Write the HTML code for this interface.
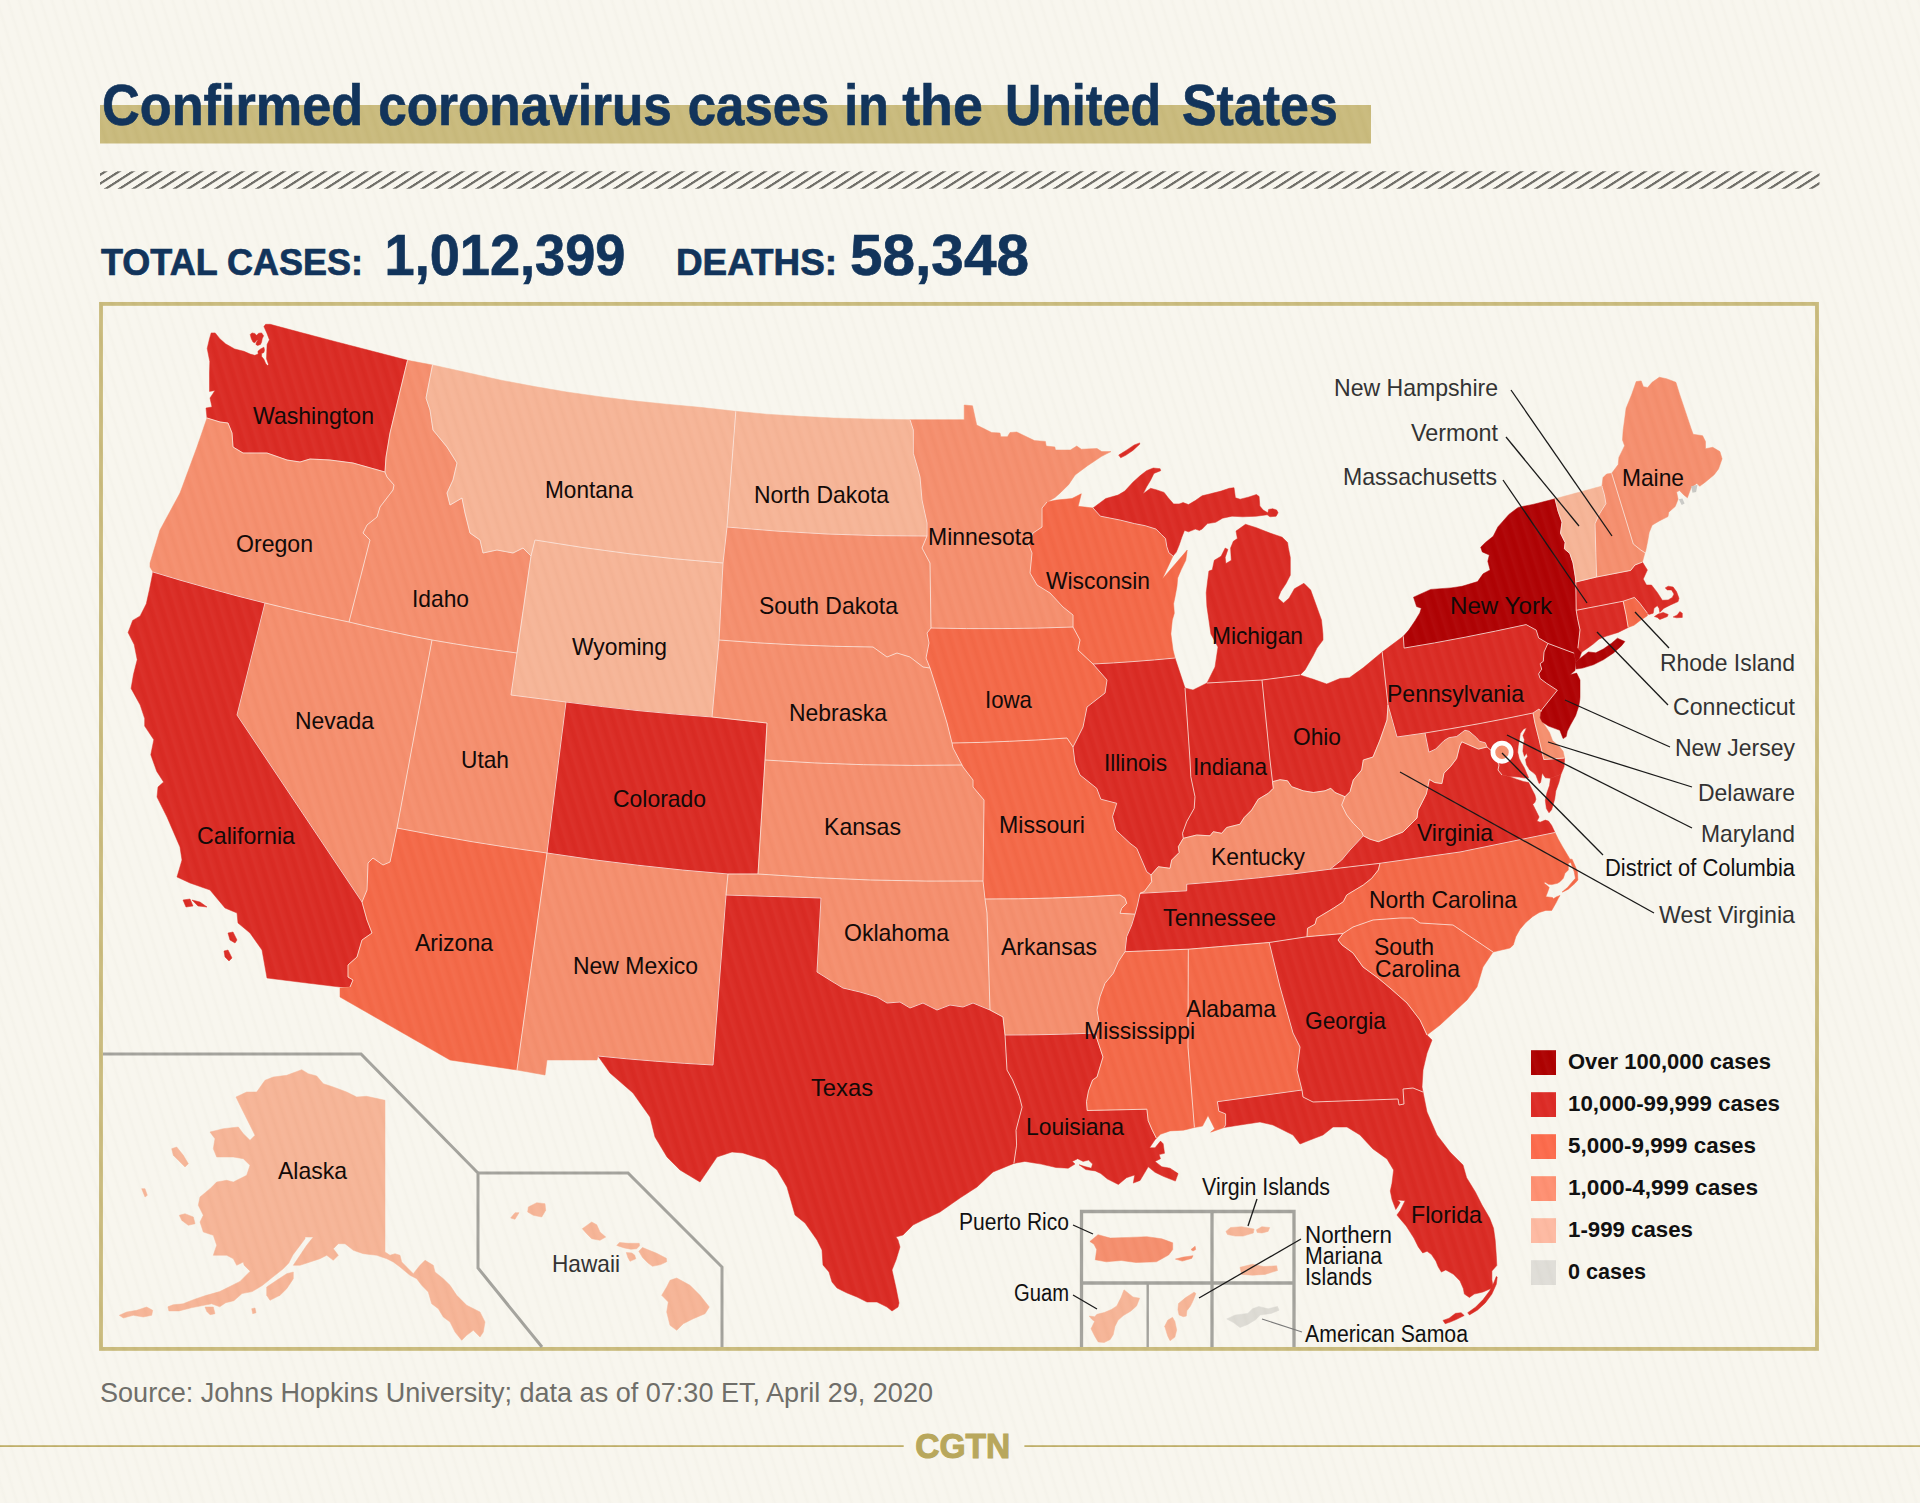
<!DOCTYPE html>
<html lang="en"><head><meta charset="utf-8"><title>Confirmed coronavirus cases in the United States</title>
<style>html,body{margin:0;padding:0}body{width:1920px;height:1503px;overflow:hidden;background:#f6f4ec;font-family:"Liberation Sans",sans-serif}svg{display:block;position:absolute;left:0;top:0}.tx{position:absolute;left:0;top:0;width:1920px;height:1503px;background:repeating-linear-gradient(73deg,rgba(255,255,255,.035) 0,rgba(255,255,255,.02) 3px,rgba(70,60,30,.016) 6px,rgba(255,255,255,.008) 8.5px,rgba(255,255,255,.035) 10.5px)}text{font-family:"Liberation Sans",sans-serif}.st{stroke:#fbe8e0;stroke-width:.9;stroke-linejoin:round;stroke-opacity:.9}.lb{font-size:24px;fill:#120a08}.lg{font-size:24px;fill:#333}.ld{stroke:#161616;stroke-width:1.3;fill:none}.din{font-size:23px;fill:#111}.leg{font-size:22.5px;font-weight:bold;fill:#111}.nv{fill:#12345b;font-weight:bold;stroke:#12345b;stroke-width:.7px}</style></head><body>
<svg width="1920" height="1503" viewBox="0 0 1920 1503">
<defs><pattern id="hatch" width="13.75" height="20" patternUnits="userSpaceOnUse" patternTransform="translate(0.1,0) skewX(-57.4)"><rect x="0" y="0" width="4.2" height="20" fill="#6f6e68"/></pattern></defs>
<rect width="1920" height="1503" fill="#f8f6ee"/>
<rect x="100" y="105" width="1271" height="38.5" fill="#c9ba7c"/>
<rect x="100" y="171.3" width="1719.5" height="17.4" fill="url(#hatch)"/>
<rect x="101" y="303.9" width="1716" height="1045" fill="none" stroke="#c9ba7c" stroke-width="3.85"/>
<polygon fill="#da2a23" stroke="#da2a23" stroke-width=".5" stroke-linejoin="round" points="207,418 206,408 212,407 210,398 215,390.5 209.5,391.4 209.5,373 209.8,361.6 207.2,348.4 209.5,338.7 211.2,332.9 215.2,332.9 219.8,338.7 225.5,343.8 234.7,349 243.9,351.3 250.2,354.1 254.8,355.3 258.2,354.1 257.9,351.3 260.5,349 263.9,347.2 264.5,350.1 263.9,352.4 261.6,353.6 261.6,356.4 263.9,359.3 265.6,363.3 267.4,365.6 268.5,364.4 266.5,358.7 266.8,351.3 267.1,344.4 269.4,339.8 266.8,332.9 263.9,326.6 265.6,324.3 270.2,324.3 300,332.3 333,341 407.5,360.3 390,433 386,457 385,472 353,463 330,460 310,459 300,462 287,460 267,453 243,453 233,447 232,433 228,423 220,422"/>
<polygon fill="#da2a23" stroke="#da2a23" stroke-width=".5" stroke-linejoin="round" points="250.2,334.6 251.9,332.9 254.8,333.5 256.5,335.2 258.8,333.2 261.6,332.9 263.6,335.8 262.2,338.7 261.6,342.1 260.5,344.4 257.6,345.5 255.9,344.4 256.5,342.1 258.2,339.8 256.5,340.4 254.8,342.7 253,342.1 251.3,338.7"/>
<polygon fill="#f58e6d" stroke="#f58e6d" stroke-width=".5" stroke-linejoin="round" points="207,418 197,447 180,493 160,530 150,563 150,567 153,572 181,580.4 209,588.3 237,595.9 265,603 286,608.1 307,613 328,617.6 349,622 370,540 363,533 367,525 377,517 380,507 393,490 394,485 387,477 385,472 353,463 330,460 310,459 300,462 287,460 267,453 243,453 233,447 232,433 228,423 220,422"/>
<polygon fill="#f58e6d" stroke="#f58e6d" stroke-width=".5" stroke-linejoin="round" points="407.5,360.3 432.5,365 426,398 430,410 433,430 447,447 457,463 453,480 447,493 450,505 462,498 465,513 470,533 480,540 483,553 497,550 513,553 523,548 531,556 517,653 495.8,650.1 474.5,647 453.2,643.6 432,640 411.2,635.9 390.5,631.5 369.8,626.9 349,622 370,540 363,533 367,525 377,517 380,507 393,490 394,485 387,477 385,472 386,457 390,433"/>
<polygon fill="#f6b496" stroke="#f6b496" stroke-width=".5" stroke-linejoin="round" points="432.5,365 466.7,372.5 500,380 533.3,386.3 566.7,392 600,396.7 633.3,400.8 666.7,404.2 700,407.3 735.8,411.3 727,527 723,563 676,558.9 629,553.7 582,547.4 535,540 531,556 523,548 513,553 497,550 483,553 480,540 470,533 465,513 462,498 450,505 447,493 453,480 457,463 447,447 433,430 430,410 426,398"/>
<polygon fill="#f6b496" stroke="#f6b496" stroke-width=".5" stroke-linejoin="round" points="535,540 582,547.4 629,553.7 676,558.9 723,563 719,640 712,717 675.5,714.1 639,710.7 602.5,706.6 566,702 511,695 517,653 531,556"/>
<polygon fill="#f58e6d" stroke="#f58e6d" stroke-width=".5" stroke-linejoin="round" points="432,640 453.2,643.6 474.5,647 495.8,650.1 517,653 511,695 566,702 547,853 509.5,847.6 472,841.7 434.5,835.1 397,828"/>
<polygon fill="#f58e6d" stroke="#f58e6d" stroke-width=".5" stroke-linejoin="round" points="265,603 286,608.1 307,613 328,617.6 349,622 369.8,626.9 390.5,631.5 411.2,635.9 432,640 397,828 390,862 383,865 373,858 368,863 367,890 362,902 237,715"/>
<polygon fill="#da2a23" stroke="#da2a23" stroke-width=".5" stroke-linejoin="round" points="153,572 149.3,590.2 146.3,603.8 140.2,615.9 132.7,620.4 128.1,632.5 134.2,644.6 137.2,659.7 133.4,674.8 131.1,688.4 140.2,705 144.7,718.6 144.7,726.1 153.8,739.7 150.8,754.8 156.8,771.5 163.6,782 158,787 157,797 167,817 180,847 182,860 177,877 190,883 210,890 225,908 237,913 238,923 250,933 262,950 267,978 307,983 340,987 350,987 353,980 348,977 348,965 357,957 362,940 372,933 367,920 362,902 237,715 265,603 237,595.9 209,588.3 181,580.4"/>
<polygon fill="#da2a23" stroke="#da2a23" stroke-width=".5" stroke-linejoin="round" points="183,900 190,899 193,906 186,907"/>
<polygon fill="#da2a23" stroke="#da2a23" stroke-width=".5" stroke-linejoin="round" points="192,900 200,902 207,907 198,906"/>
<polygon fill="#da2a23" stroke="#da2a23" stroke-width=".5" stroke-linejoin="round" points="228,933 233,932 237,940 235,943 230,940"/>
<polygon fill="#da2a23" stroke="#da2a23" stroke-width=".5" stroke-linejoin="round" points="224,951 228,950 232,958 229,961 225,957"/>
<polygon fill="#f46847" stroke="#f46847" stroke-width=".5" stroke-linejoin="round" points="397,828 434.5,835.1 472,841.7 509.5,847.6 547,853 517,1070 450,1060 340,997 340,988 350,987 353,980 348,977 348,965 357,957 362,940 372,933 367,920 362,902 367,890 368,863 373,858 383,865 390,862"/>
<polygon fill="#f58e6d" stroke="#f58e6d" stroke-width=".5" stroke-linejoin="round" points="547,853 592.2,859.6 637.5,865.2 682.8,870.1 728,874 726,895 713,1065 684.2,1063.3 655.5,1061.2 626.8,1058.8 598,1056 597,1060 547,1060 545,1075 517,1070"/>
<polygon fill="#da2a23" stroke="#da2a23" stroke-width=".5" stroke-linejoin="round" points="566,702 602.5,706.6 639,710.7 675.5,714.1 712,717 767,723 765,760 758,874 728,874 682.8,870.1 637.5,865.2 592.2,859.6 547,853"/>
<polygon fill="#f6b496" stroke="#f6b496" stroke-width=".5" stroke-linejoin="round" points="735.8,411.3 766.7,414.2 800,416.3 833.3,418 866.7,419 910,419.7 913.3,430 913.3,453.3 916.7,465 920,477 922,500 927,523 927,536 877,535.6 827,534 777,531.1 727,527"/>
<polygon fill="#f58e6d" stroke="#f58e6d" stroke-width=".5" stroke-linejoin="round" points="727,527 777,531.1 827,534 877,535.6 927,536 922,548 930,563 931,628 927,633 929,643 926,658 930,668 923,667 910,657 897,653 887,657 873,647 834.5,646.3 796,644.9 757.5,642.8 719,640 723,563"/>
<polygon fill="#f58e6d" stroke="#f58e6d" stroke-width=".5" stroke-linejoin="round" points="719,640 757.5,642.8 796,644.9 834.5,646.3 873,647 887,657 897,653 910,657 923,667 930,668 937,690 947,723 952,743 953,748 962,765 912.8,765.4 863.5,764.7 814.2,762.9 765,760 767,723 712,717"/>
<polygon fill="#f58e6d" stroke="#f58e6d" stroke-width=".5" stroke-linejoin="round" points="765,760 814.2,762.9 863.5,764.7 912.8,765.4 962,765 963,767 973,780 973,787 984,800 983,881 926.8,881.1 870.5,880 814.2,877.6 758,874"/>
<polygon fill="#f58e6d" stroke="#f58e6d" stroke-width=".5" stroke-linejoin="round" points="758,874 814.2,877.6 870.5,880 926.8,881.1 983,881 985,899 987,913 990,1010 973,1003 963,1007 950,1005 937,1010 923,1003 910,1008 900,1002 887,1003 877,997 860,992 843,988 833,982 817,972 821,898 726,895 728,874"/>
<polygon fill="#da2a23" stroke="#da2a23" stroke-width=".5" stroke-linejoin="round" points="726,895 821,898 817,972 833,982 843,988 860,992 877,997 887,1003 900,1002 910,1008 923,1003 937,1010 950,1005 963,1007 973,1003 990,1010 1003,1017 1005,1035 1007,1070 1012.6,1080 1019.3,1096.3 1022.1,1107.1 1016,1130.2 1016.6,1145.1 1013.9,1163.4 993,1172 977,1187 960,1198 940,1212 923,1220 913,1225 903,1235 896,1237 898,1240 900,1247 896,1260 892,1270 896,1288 899,1303 898,1307 892,1311 887,1307 877,1302 867,1302 857,1297 847,1293 837,1288 832,1282 829,1272 823,1265 822,1250 817,1240 805,1223 795,1215 787,1187 777,1170 765,1160 743,1153 732,1152 717,1157 700,1182 680,1170 667,1157 655,1137 650,1117 633,1093 610,1073 598,1056 626.8,1058.8 655.5,1061.2 684.2,1063.3 713,1065"/>
<polygon fill="#f58e6d" stroke="#f58e6d" stroke-width=".5" stroke-linejoin="round" points="910,419.7 964.2,419.7 964.2,405 972.5,405.8 976.7,425 986.7,430 991.7,432.5 1000,433 1000.8,436.7 1007.5,436.7 1010,432.5 1016.7,432 1034.4,440.6 1045.4,441.4 1046.2,446.1 1054.8,446.9 1055.5,450 1070.4,450 1076.7,446.1 1081.3,449.2 1097,448.5 1101.7,451.6 1111,451.6 1101.7,456.3 1087.6,465.7 1075.1,475 1068.8,484.4 1061,492.2 1054.8,497.7 1047,502 1042,508 1042,527 1033,533 1028,543 1032,553 1030,573 1037,585 1050,593 1063,607 1073,615 1073,627 1037.5,628.1 1002,628.6 966.5,628.6 931,628 930,563 922,548 927,536 927,523 922,500 920,477 916.7,465 913.3,453.3 913.3,430"/>
<polygon fill="#f46847" stroke="#f46847" stroke-width=".5" stroke-linejoin="round" points="931,628 966.5,628.6 1002,628.6 1037.5,628.1 1073,627 1080,640 1078,650 1093,664 1107,680 1105,693 1087,707 1083,727 1073,747 1067,738 1038.2,739.9 1009.5,741.3 980.8,742.4 952,743 947,723 937,690 930,668 926,658 929,643 927,633"/>
<polygon fill="#f46847" stroke="#f46847" stroke-width=".5" stroke-linejoin="round" points="952,743 980.8,742.4 1009.5,741.3 1038.2,739.9 1067,738 1073,747 1075,763 1080,775 1096.7,788.3 1100.8,799.2 1116.7,803.3 1112.5,816.7 1115.8,830 1130,843.3 1136.7,848.3 1141.7,860 1146.7,871.7 1151,875 1151.7,881.7 1144.2,891.7 1140,893.3 1137.5,905 1135,914.2 1120,913.3 1121.7,908.3 1126.7,903.3 1125,898.3 1120,895 1086.2,896.8 1052.5,898 1018.8,898.8 985,899 983,881 984,800 973,787 973,780 963,767 962,765 953,748"/>
<polygon fill="#f58e6d" stroke="#f58e6d" stroke-width=".5" stroke-linejoin="round" points="985,899 1018.8,898.8 1052.5,898 1086.2,896.8 1120,895 1125,898.3 1126.7,903.3 1121.7,908.3 1120,913.3 1135,914.2 1131.7,925 1126.7,936.7 1125,951.7 1118.3,961.7 1113.3,973.3 1105,983.3 1100,996.7 1097,1010 1100,1027 1095,1033 1072.5,1033.9 1050,1034.5 1027.5,1034.9 1005,1035 1003,1017 990,1010 987,913"/>
<polygon fill="#da2a23" stroke="#da2a23" stroke-width=".5" stroke-linejoin="round" points="1005,1035 1027.5,1034.9 1050,1034.5 1072.5,1033.9 1095,1033 1103,1057 1097,1077 1092.6,1080 1088.5,1090.9 1086.5,1101.7 1087.2,1110.5 1146.9,1109.2 1148.2,1120.7 1152.3,1130.2 1156.4,1138.3 1155,1139.7 1149.6,1147.8 1155,1147.8 1160.5,1141.1 1163.2,1143.8 1164.5,1153.3 1159.1,1154.6 1160.5,1158.7 1155,1161.4 1161.8,1166.8 1170,1168.2 1178.1,1173.6 1175.4,1181.1 1163.2,1176.3 1155,1172.3 1148.2,1166.8 1144.2,1173.6 1140.1,1180.4 1133.3,1183.1 1134.7,1175 1126.5,1177.7 1118.4,1184.5 1107.5,1179.1 1100.8,1173.6 1095.3,1170.9 1085.8,1169.6 1079.1,1164.8 1085.8,1166.8 1091.3,1168.2 1092.6,1164.1 1088.5,1160.1 1083.1,1161.4 1077.7,1158.7 1072.3,1161.4 1075,1164.1 1068.2,1168.2 1056,1167.5 1041.1,1164.1 1024.8,1161.4 1013.9,1163.4 1016.6,1145.1 1016,1130.2 1022.1,1107.1 1019.3,1096.3 1012.6,1080 1007,1070"/>
<polygon fill="#f46847" stroke="#f46847" stroke-width=".5" stroke-linejoin="round" points="1047,502 1056.3,500.1 1072,498.5 1081.3,493.8 1078.2,506.3 1093,508 1100.4,516.2 1107.1,517.5 1120.7,520.2 1134.3,523.6 1145.1,525.7 1156,529.1 1161.4,534.5 1165.5,538.5 1166.8,546.7 1168.9,552.8 1173,556 1162.8,577.9 1162.1,579.3 1187.2,550.1 1185.8,560.3 1181.1,569.8 1177.7,577.9 1177,586 1175,596.9 1173.6,603.7 1174.3,613.2 1172.3,620 1170.9,633.9 1173,650 1175,658 1154.5,659.9 1134,661.5 1113.5,662.9 1093,664 1078,650 1080,640 1073,627 1073,615 1063,607 1050,593 1037,585 1030,573 1032,553 1028,543 1033,533 1042,527 1042,508"/>
<polygon fill="#da2a23" stroke="#da2a23" stroke-width=".5" stroke-linejoin="round" points="1093,508 1105.8,498.5 1118,495.1 1124.8,491.1 1132.9,482.2 1139.7,476.1 1146.5,470.7 1153.3,468 1160.1,468.7 1160.7,470.7 1153.9,473.4 1150.6,480.2 1146.5,487 1143.1,493.8 1150.6,488.3 1156,489.7 1164.1,492.4 1168.2,497.8 1173.6,503.9 1179.1,503.9 1183.1,502.6 1188.5,504.6 1195.3,500.6 1202.1,495.8 1210.3,493.8 1221.1,491.1 1229.3,488.3 1234,487.7 1235.4,497.8 1240.1,499.2 1248.2,497.2 1256.4,494.5 1259.1,496.5 1259.8,506 1263.2,510.1 1267.9,512.8 1268.6,509.4 1272.7,508.7 1276.7,510.1 1278.1,512.8 1276.1,516.2 1270,516.8 1267.2,514.8 1256.4,516.2 1242.8,516.8 1232,516.2 1222.5,518.2 1215.7,522.3 1207.5,523.6 1202.1,529.1 1199.4,530.4 1195.3,529.1 1188.5,531.8 1184.5,530.4 1181.8,537.2 1179.1,545.3 1176.3,552.1 1173,556 1168.9,552.8 1166.8,546.7 1165.5,538.5 1161.4,534.5 1156,529.1 1145.1,525.7 1134.3,523.6 1120.7,520.2 1107.1,517.5 1100.4,516.2"/>
<polygon fill="#da2a23" stroke="#da2a23" stroke-width=".5" stroke-linejoin="round" points="1207,683 1215,667 1218,647 1210.9,633.9 1208.9,620 1206.9,606.4 1206.2,592.8 1207.5,582 1208.9,571.1 1212.3,569.8 1214.3,560.3 1221.1,556.2 1225.2,548 1227.9,549.4 1225.2,557.5 1225.9,563.6 1231.3,560.3 1230.6,548 1233.3,541.3 1237.4,538.5 1236,531.1 1245.5,524.3 1256.4,527.7 1270,533.1 1282.2,537.2 1287.6,542.6 1288.3,547.4 1290.3,557.5 1290.3,575.2 1286.2,583.3 1280.8,591.5 1278.1,598.2 1283.5,603 1289,598.2 1294.4,588.8 1303.9,583.3 1310.7,590.1 1316.1,605 1321.5,620 1322.9,633.9 1323,640 1317,648 1313,656 1305,670 1300,675 1262,680"/>
<polygon fill="#da2a23" stroke="#da2a23" stroke-width=".5" stroke-linejoin="round" points="1118.7,455.1 1126.1,450.4 1134.3,444.9 1139.7,442.9 1139.7,444.2 1132.9,450.4 1126.1,455.1 1120.7,457.8"/>
<polygon fill="#da2a23" stroke="#da2a23" stroke-width=".5" stroke-linejoin="round" points="1093,664 1113.5,662.9 1134,661.5 1154.5,659.9 1175,658 1180,673 1185,688 1190,760 1190.8,776.7 1195,796.7 1194.2,808.3 1186.7,821.7 1182.5,833.3 1183.3,838.3 1178.3,846.7 1179.2,852.5 1171.7,860 1170,868.3 1158.3,866.7 1151,875 1146.7,871.7 1141.7,860 1136.7,848.3 1130,843.3 1115.8,830 1112.5,816.7 1116.7,803.3 1100.8,799.2 1096.7,788.3 1080,775 1075,763 1073,747 1083,727 1087,707 1105,693 1107,680"/>
<polygon fill="#da2a23" stroke="#da2a23" stroke-width=".5" stroke-linejoin="round" points="1185,688 1193,690 1207,683 1262,680 1270,760 1272.5,781.7 1273.3,788.3 1268.3,793.3 1258.3,799.2 1251.7,810 1244.2,817.5 1240,824.2 1226.7,827.5 1221.7,833.3 1213.3,831.7 1210,835.8 1196.7,835 1183.3,838.3 1182.5,833.3 1186.7,821.7 1194.2,808.3 1195,796.7 1190.8,776.7 1190,760"/>
<polygon fill="#da2a23" stroke="#da2a23" stroke-width=".5" stroke-linejoin="round" points="1262,680 1300,675 1313.4,679.3 1326.7,684 1340,678.5 1349.4,677.8 1363.5,667.6 1382.2,652 1388,705 1387,720 1380,740 1373,757 1363.3,760 1361.7,770 1353.3,780 1350,791.7 1345,796.7 1335,792.5 1330.8,788.3 1325,790.8 1313.3,792.5 1303.3,790.8 1291.7,786.7 1287.5,780.8 1280,779.7 1272.5,781.7 1270,760"/>
<polygon fill="#f58e6d" stroke="#f58e6d" stroke-width=".5" stroke-linejoin="round" points="1183.3,838.3 1196.7,835 1210,835.8 1213.3,831.7 1221.7,833.3 1226.7,827.5 1240,824.2 1244.2,817.5 1251.7,810 1258.3,799.2 1268.3,793.3 1273.3,788.3 1272.5,781.7 1280,779.7 1287.5,780.8 1291.7,786.7 1303.3,790.8 1313.3,792.5 1325,790.8 1330.8,788.3 1335,792.5 1345,796.7 1341.7,805 1346.7,815 1353.3,823.3 1361.7,831.7 1363.3,835.8 1350,850 1341.7,860 1330,869.2 1294.2,873.8 1258.3,877.8 1222.5,881.3 1186.7,884.2 1186.7,890.8 1140,893.3 1144.2,891.7 1151.7,881.7 1151,875 1158.3,866.7 1170,868.3 1171.7,860 1179.2,852.5 1178.3,846.7"/>
<polygon fill="#da2a23" stroke="#da2a23" stroke-width=".5" stroke-linejoin="round" points="1140,893.3 1186.7,890.8 1186.7,884.2 1222.5,881.3 1258.3,877.8 1294.2,873.8 1330,869.2 1380,863.3 1378.3,870 1371.7,878.3 1363.3,885 1355,890 1346.7,895 1343.3,901.7 1333.3,908.3 1325,913.3 1316.7,918.3 1315,924.2 1307.5,928.3 1307,936.7 1269.2,942.5 1188.3,949.2 1125,951.7 1126.7,936.7 1131.7,925 1135,914.2 1137.5,905"/>
<polygon fill="#f46847" stroke="#f46847" stroke-width=".5" stroke-linejoin="round" points="1125,951.7 1188.3,949.2 1188,1047 1194.4,1127.5 1183.5,1130.2 1170,1130.9 1160.5,1134.3 1156.4,1138.3 1152.3,1130.2 1148.2,1120.7 1146.9,1109.2 1087.2,1110.5 1086.5,1101.7 1088.5,1090.9 1092.6,1080 1097,1077 1103,1057 1095,1033 1100,1027 1097,1010 1100,996.7 1105,983.3 1113.3,973.3 1118.3,961.7"/>
<polygon fill="#f46847" stroke="#f46847" stroke-width=".5" stroke-linejoin="round" points="1188.3,949.2 1269.2,942.5 1280,987 1293,1033 1300,1047 1297,1070 1302,1090 1217.4,1101.7 1218.8,1111.2 1225.6,1113.9 1225.6,1124.8 1224.2,1127.5 1210.7,1132.2 1214.7,1128.8 1208,1115.5 1202.5,1126.1 1194.4,1127.5 1188,1047"/>
<polygon fill="#da2a23" stroke="#da2a23" stroke-width=".5" stroke-linejoin="round" points="1269.2,942.5 1307,936.7 1343,933.5 1338,940 1342,945 1353,953 1363,967 1378,978 1390,988 1407,1003 1420,1020 1427,1035 1432,1040 1427,1053 1423,1070 1422,1087 1423,1092 1413,1088 1403,1089 1404,1104 1399,1105 1398,1099 1313,1102 1303,1097 1302,1090 1297,1070 1300,1047 1293,1033 1280,987"/>
<polygon fill="#da2a23" stroke="#da2a23" stroke-width=".5" stroke-linejoin="round" points="1302,1090 1303,1097 1313,1102 1398,1099 1399,1105 1404,1104 1403,1089 1413,1088 1423,1092 1427,1112 1437,1135 1450,1152 1463,1165 1464.4,1170 1466.6,1177.7 1475.4,1192 1482,1205.1 1489.7,1218.3 1493.5,1228.2 1495.2,1240.3 1496.3,1255.6 1496.8,1265.5 1491.9,1271 1491.9,1279.8 1493,1286.4 1490.8,1288.6 1483.1,1291.9 1474.3,1294.1 1469.4,1297.4 1464.4,1294.1 1463.3,1288.6 1460,1280.9 1453.5,1274.3 1445.8,1269.9 1441.4,1272.1 1438.1,1266.6 1435.9,1261.1 1431.5,1254.6 1427.1,1251.3 1422.7,1252.9 1418.3,1246.9 1413.9,1238.1 1406.2,1226 1399.6,1218.3 1396.9,1215 1400.2,1210.6 1405.1,1200.7 1397.5,1199.9 1400.2,1202.4 1398,1206.2 1395.8,1209.5 1392,1199.6 1390.3,1190.9 1392,1183.2 1393.6,1170 1387,1159 1373,1149 1360,1135 1347,1127 1333,1127 1323,1135 1310,1140 1300,1144 1293,1135 1273,1125 1260,1122 1240,1125 1224.2,1127.5 1225.6,1124.8 1225.6,1113.9 1218.8,1111.2 1217.4,1101.7"/>
<polygon fill="#da2a23" stroke="#da2a23" stroke-width=".5" stroke-linejoin="round" points="1443,1320.4 1449.1,1318.2 1455.6,1313.3 1461.1,1312.7 1464.2,1315.5 1456.7,1319.3 1450.2,1322.1 1445.2,1323.7"/>
<polygon fill="#da2a23" stroke="#da2a23" stroke-width=".5" stroke-linejoin="round" points="1467.7,1312.7 1475.4,1307.3 1483.1,1299.6 1489.7,1290.8 1494.1,1282 1496.3,1276.5 1497.2,1277.1 1496.3,1284.2 1491.9,1294.1 1485.3,1302.9 1477.6,1310 1469.4,1314.9"/>
<polygon fill="#f46847" stroke="#f46847" stroke-width=".5" stroke-linejoin="round" points="1343,933.5 1353,927 1373,920 1400,918 1413,918 1420,923 1453,925 1493,952 1483,967 1477,987 1467,1000 1453,1013 1440,1025 1427,1035 1420,1020 1407,1003 1390,988 1378,978 1363,967 1353,953 1342,945 1338,940"/>
<polygon fill="#f46847" stroke="#f46847" stroke-width=".5" stroke-linejoin="round" points="1380,863.3 1460,852 1555,832.5 1558.3,839.2 1562.5,846.7 1567.5,855 1570,859.2 1568.3,863.3 1568.3,870 1565,873.3 1563.3,878.3 1560,881.7 1557.5,883.3 1551.7,884.6 1548.3,884.2 1545,882.1 1544.2,883.3 1547.5,885.8 1549.2,887.5 1547.5,892.5 1545.8,896.7 1552.5,897.5 1553.3,898.8 1556.7,896.7 1560,895.4 1558.3,898.3 1555.8,903.3 1551.7,910.4 1545.8,910.4 1539.2,912.5 1532.5,916.7 1525.8,922.5 1520,929.2 1515.8,936.7 1513.3,945 1510,948 1493,952 1453,925 1420,923 1413,918 1400,918 1373,920 1353,927 1343,933.5 1307,936.7 1307.5,928.3 1315,924.2 1316.7,918.3 1325,913.3 1333.3,908.3 1343.3,901.7 1346.7,895 1355,890 1363.3,885 1371.7,878.3 1378.3,870"/>
<polygon fill="#f46847" stroke="#f46847" stroke-width=".5" stroke-linejoin="round" points="1570,859.2 1572.1,859.2 1575,865.8 1577.5,871.7 1577.9,880 1575,883.3 1568.3,889.2 1563.3,891.7 1562.1,892.1 1567.5,887.5 1571.7,882.5 1575.4,878.3 1574.2,871.7 1570.8,862.5 1568.3,863.3"/>
<polygon fill="#da2a23" stroke="#da2a23" stroke-width=".5" stroke-linejoin="round" points="1330,869.2 1341.7,860 1350,850 1363.3,835.8 1370,839.2 1378.3,841.7 1403,832 1417,818 1418,810 1420,806.5 1426.3,794 1429.4,779.4 1434.6,782.5 1441.9,783.6 1444,773.1 1450.3,766.8 1456.6,758.5 1459.7,746 1461.8,741.8 1478.5,749.1 1487,747 1493,752 1499,765 1498,770 1502,775 1509.8,776.8 1517.1,779.4 1523.4,781.5 1528.6,782.5 1530.7,786.7 1532.8,790.9 1534.9,795 1535.9,799.2 1534.9,802.3 1532.8,804.4 1534.9,808.6 1537,812.8 1539.1,817 1537,821.1 1540.1,822.2 1545.3,820.1 1548.5,821.1 1551.6,825.3 1555,832.5 1460,852 1380,863.3"/>
<polygon fill="#da2a23" stroke="#da2a23" stroke-width=".5" stroke-linejoin="round" points="1550.5,778.3 1561,774.2 1558.9,782.5 1555.8,790.9 1554.7,799.2 1551.6,809.7 1549,812.8 1546.4,808.6 1545.3,800.3 1546.9,793 1549.5,785.6"/>
<polygon fill="#f58e6d" stroke="#f58e6d" stroke-width=".5" stroke-linejoin="round" points="1388,705 1397,737 1425,733 1428.9,752.2 1435.7,749.1 1444,740.7 1449.2,737.6 1456.6,736.6 1464.9,730.3 1469.1,731.3 1476.4,737.6 1479.5,741.3 1485.3,742.8 1487,747 1478.5,749.1 1461.8,741.8 1459.7,746 1456.6,758.5 1450.3,766.8 1444,773.1 1441.9,783.6 1434.6,782.5 1429.4,779.4 1426.3,794 1420,806.5 1418,810 1417,818 1403,832 1378.3,841.7 1370,839.2 1363.3,835.8 1361.7,831.7 1353.3,823.3 1346.7,815 1341.7,805 1345,796.7 1350,791.7 1353.3,780 1361.7,770 1363.3,760 1373,757 1380,740 1387,720"/>
<polygon fill="#da2a23" stroke="#da2a23" stroke-width=".5" stroke-linejoin="round" points="1425,733 1452,728.5 1479,723.7 1506,718.5 1533,713 1534.9,723 1539.1,739.7 1543.8,759.5 1564.6,758 1564.1,766.8 1561,774.2 1550.5,778.3 1545.3,777.8 1542.2,773.1 1540.6,782.5 1539.1,783.6 1535.9,775.2 1533.8,773.1 1529.7,770 1526.5,764.8 1525.5,759.5 1527.6,756.4 1526.5,753.3 1524.4,756.4 1522.9,751.2 1523.4,744.9 1524.4,739.7 1522.9,735.5 1525.5,730.3 1526.5,727.7 1523.4,729.2 1520.3,733.4 1519.2,740.7 1518.2,746 1517.7,752.2 1519.2,758.5 1521.3,762.7 1524.4,767.9 1526.5,773.1 1528.6,777.8 1524.4,778.1 1519.2,777.1 1509.8,776.6 1502,775 1498,770 1499,765 1493,752 1487,747 1485.3,742.8 1479.5,741.3 1476.4,737.6 1469.1,731.3 1464.9,730.3 1456.6,736.6 1449.2,737.6 1444,740.7 1435.7,749.1 1428.9,752.2"/>
<polygon fill="#f58e6d" stroke="#f58e6d" stroke-width=".5" stroke-linejoin="round" points="1541,711.5 1540.1,715.7 1541.7,720.9 1545.3,726.1 1549.5,732.4 1552.6,740.7 1558.9,746 1563.1,751.2 1564.6,758 1543.8,759.5 1539.1,739.7 1534.9,723 1533,713 1539,709"/>
<polygon fill="#da2a23" stroke="#da2a23" stroke-width=".5" stroke-linejoin="round" points="1404.1,648.1 1434.6,642.9 1465.1,637.2 1495.6,631.1 1526.1,624.6 1536.2,630.1 1538.6,637.9 1547.9,643.4 1544,652 1543.3,661.3 1540.1,663.7 1541.7,669.2 1538.6,673.9 1540.1,678.5 1546.4,683.2 1557.3,690.3 1547.9,702 1541.7,709.8 1541,711.5 1539,709 1533,713 1506,718.5 1479,723.7 1452,728.5 1425,733 1397,737 1388,705 1382.2,652 1403.3,636.3"/>
<polygon fill="#af0103" stroke="#af0103" stroke-width=".5" stroke-linejoin="round" points="1547.9,643.4 1574.1,653.2 1575.8,662.3 1575,670.6 1570,674.8 1576.6,673.1 1580,680 1580,697 1579.8,700 1578.7,706.3 1575.6,715.7 1570.4,725.1 1567.3,731.3 1566.2,736.6 1563.1,738.6 1561.5,734.5 1559.9,730.3 1548.5,726.1 1542.2,721.9 1540.1,717.8 1541,711.5 1541.7,709.8 1547.9,702 1557.3,690.3 1546.4,683.2 1540.1,678.5 1538.6,673.9 1541.7,669.2 1540.1,663.7 1543.3,661.3 1544,652"/>
<polygon fill="#af0103" stroke="#af0103" stroke-width=".5" stroke-linejoin="round" points="1404.1,648.1 1403.3,636.3 1408.8,630.1 1415.1,620.7 1419.8,612.9 1421.3,608.2 1416.6,606.6 1413.5,597.2 1430.7,589.4 1451,587.9 1462,586.3 1477.6,581.6 1483.1,573.8 1490.1,569.9 1487.8,561.3 1489.3,555 1482.3,551.9 1480.7,547.2 1485.4,542.5 1493.2,536.3 1497.9,526.9 1508.9,514.4 1518.2,507.4 1533.9,504.2 1555,498.8 1558.1,511.3 1562,522.2 1560.5,533.2 1565.1,542.5 1564.4,548.8 1569.8,553.5 1573,562.9 1575.3,576.9 1575.8,582 1576.2,610.3 1577.5,618.2 1580,629.9 1577.9,648.2 1581.6,652.3 1579.1,659 1575.8,662.3 1574.1,653.2 1547.9,643.4 1538.6,637.9 1536.2,630.1 1526.1,624.6 1495.6,631.1 1465.1,637.2 1434.6,642.9"/>
<polygon fill="#af0103" stroke="#af0103" stroke-width=".5" stroke-linejoin="round" points="1578.7,659.4 1588.3,651.9 1595.8,652.8 1603.3,649 1611.6,643.2 1617.4,638.2 1624.9,641.5 1621.6,645.7 1613.2,653.2 1603.3,659.8 1593.3,664.8 1582.5,668.1 1576.2,669 1575.8,662.3"/>
<polygon fill="#da2a23" stroke="#da2a23" stroke-width=".5" stroke-linejoin="round" points="1577.9,648.2 1581.6,652.3 1587.5,648.2 1593.3,644 1599.1,639 1606.6,636.1 1618.2,632.4 1628.2,627.4 1626.1,614.9 1623.2,601.2 1576.2,610.3 1577.5,618.2 1580,629.9"/>
<polygon fill="#f46847" stroke="#f46847" stroke-width=".5" stroke-linejoin="round" points="1623.2,601.2 1634.5,597.4 1639.9,603.3 1647.4,613.2 1647.4,615.7 1639.9,620.7 1634,625.3 1628.2,627.4 1626.1,614.9"/>
<polygon fill="#da2a23" stroke="#da2a23" stroke-width=".5" stroke-linejoin="round" points="1575.8,582 1596.6,577 1630.7,570.4 1634.9,565 1642.4,562.1 1647.4,570 1643.2,579.1 1646.5,585 1651.5,585 1657.3,592.4 1662.3,600.3 1668.2,599.9 1672.3,597.4 1674,594.1 1671.5,589.9 1667.3,589.9 1665.2,587.9 1668.2,586.2 1673.1,587 1676.5,591.6 1679,598.3 1678.1,601.6 1670.6,604.9 1664,608.2 1659.8,612.4 1659,608.2 1657.3,605.7 1654,608.2 1653.2,613.2 1649,614.5 1647.4,613.2 1639.9,603.3 1634.5,597.4 1623.2,601.2 1576.2,610.3"/>
<polygon fill="#da2a23" stroke="#da2a23" stroke-width=".5" stroke-linejoin="round" points="1654.4,616.6 1658.2,614.1 1663.2,612.4 1668.2,614.5 1667.3,616.6 1663.2,618.2 1659.8,619.5 1657.3,617.4"/>
<polygon fill="#da2a23" stroke="#da2a23" stroke-width=".5" stroke-linejoin="round" points="1673.1,617 1677.3,614.9 1679.8,611.6 1682.3,613.2 1682.3,617.4 1676.5,617.8"/>
<polygon fill="#f6b496" stroke="#f6b496" stroke-width=".5" stroke-linejoin="round" points="1555,498.8 1602,486 1602.3,487.7 1604.4,494.9 1605.9,503.6 1598.7,515.1 1595,523.8 1595.8,552.7 1596.6,577 1575.8,582 1575.3,576.9 1573,562.9 1569.8,553.5 1564.4,548.8 1565.1,542.5 1560.5,533.2 1562,522.2 1558.1,511.3"/>
<polygon fill="#f58e6d" stroke="#f58e6d" stroke-width=".5" stroke-linejoin="round" points="1602,486 1603,477.6 1606.6,474 1611.7,473.3 1633.3,544 1640.5,549.8 1644.9,552.7 1643.4,558.4 1642.4,562.1 1634.9,565 1630.7,570.4 1596.6,577 1595.8,552.7 1595,523.8 1598.7,515.1 1605.9,503.6 1604.4,494.9 1602.3,487.7"/>
<polygon fill="#f58e6d" stroke="#f58e6d" stroke-width=".5" stroke-linejoin="round" points="1611.7,473.3 1618.2,464.6 1618.9,457.4 1624.6,445.8 1622.5,440.1 1623.2,430 1626.1,408.3 1631.9,393.9 1636.2,381.6 1641.2,380.9 1643.4,386.7 1647.7,387.4 1652.1,382.3 1659.3,377.3 1666.5,378.7 1675.9,382.3 1679.5,393.9 1685.3,411.2 1691.1,428.5 1693.2,434.3 1702.6,435.7 1705.5,441.5 1705.5,448.7 1712.7,447.3 1719.9,451.6 1722.1,458.8 1718.5,468.9 1714.2,474.7 1705.5,481.9 1699.7,486.3 1696.8,483.4 1691.1,487.7 1687.4,497.8 1683.8,494.9 1679.5,490.6 1676.6,492 1678.1,499.3 1675.2,506.5 1668.7,512.2 1668,516.6 1659.3,520.9 1652.1,525.2 1649.2,532.5 1647.7,541.1 1645.6,551.2 1644.9,552.7 1640.5,549.8 1633.3,544"/>
<polygon fill="#f6b496" stroke="#f6b496" stroke-width=".5" stroke-linejoin="round" points="236,1097 246.7,1092 256.7,1092 265,1080.3 273.3,1077 286.7,1075.3 301.7,1069.7 308.3,1073.7 316.7,1076 323.3,1083.7 333.3,1087 346.7,1092 356.7,1097 366.7,1096.3 385,1100.3 385,1252 390,1255.3 395,1253.7 400,1255.3 401.7,1262 408.3,1268.7 413.3,1273.7 420,1265.3 425,1260.3 433.3,1265.3 435,1272 443.3,1278.7 450,1285.3 456.7,1295.3 466.7,1305.3 480,1312 485,1322 483.3,1332 480,1337 473.3,1330.3 466.7,1335.3 461.7,1340.3 455,1332 450,1322 443.3,1317 438.3,1308.7 431.7,1303.7 428.3,1292 421.7,1285.3 416.7,1278.7 410,1275.3 400,1267 393.3,1262 386.7,1258.7 376.7,1255.3 363.3,1253.7 353.3,1250.3 345,1243.7 338.3,1243.7 333.3,1248.7 338.3,1255.3 333.3,1260.3 326.7,1255.3 320,1258.7 310,1262 300,1265.3 293.3,1265.3 300,1255.3 306.7,1245.3 313.3,1237 305,1237 305,1238.8 298.9,1246.9 292.8,1255 288.8,1263.1 282.7,1269.2 272.5,1277.3 262.3,1285.5 252.2,1291.6 242,1293.6 233.9,1300.7 225.8,1302.7 219.7,1306.8 211.6,1303.8 201.4,1305.8 191.3,1307.8 179.1,1310.9 168.9,1310.9 167.9,1306.8 173,1304.8 183.1,1303.8 193.3,1299.7 205.5,1295.6 219.7,1291.6 231.9,1285.5 240,1281.4 250.2,1271.2 244.1,1265.2 243.3,1262 236.7,1265.3 233.3,1258.7 226.7,1255.3 213.3,1255.3 216.7,1245.3 213.3,1235.3 203.3,1232 200,1222 203.3,1215.3 198.3,1205.3 200,1197 210,1188.7 216.7,1182 226.7,1180.3 233.3,1182 246.7,1175.3 250,1165.3 243.3,1158.7 233.3,1157 216.7,1157 213.3,1148.7 215,1138.7 210,1132 223.3,1128.7 238.3,1127 243.3,1133.7 250,1140.3 255,1135.3 250,1125.3 245,1115.3 240,1105.3"/>
<polygon fill="#f6b496" stroke="#f6b496" stroke-width=".5" stroke-linejoin="round" points="171.7,1148.7 176.7,1147 183.3,1155.3 188.3,1163.7 185,1167 178.3,1160.3 173.3,1155.3"/>
<polygon fill="#f6b496" stroke="#f6b496" stroke-width=".5" stroke-linejoin="round" points="141.7,1188.7 145,1188.7 147.3,1195.3 145,1197"/>
<polygon fill="#f6b496" stroke="#f6b496" stroke-width=".5" stroke-linejoin="round" points="179.3,1215.3 185,1213.7 193.3,1217 195,1223.7 188.3,1225.3 181.7,1220.3"/>
<polygon fill="#f6b496" stroke="#f6b496" stroke-width=".5" stroke-linejoin="round" points="266.7,1287 276.7,1280.3 286.7,1273.7 293.3,1272 293.3,1278.7 286.7,1288.7 280,1295.3 270,1300.3 266.7,1295.3"/>
<polygon fill="#f6b496" stroke="#f6b496" stroke-width=".5" stroke-linejoin="round" points="119.3,1315.3 126.7,1312 136.7,1310.3 146.7,1307 152.7,1310.3 151.7,1315.3 143.3,1317 133.3,1315.3 123.3,1318"/>
<polygon fill="#f6b496" stroke="#f6b496" stroke-width=".5" stroke-linejoin="round" points="205,1307 213.3,1307 215,1313.7 210,1314.7 206.7,1311.3"/>
<polygon fill="#f6b496" stroke="#f6b496" stroke-width=".5" stroke-linejoin="round" points="251.7,1308.7 255,1308 256,1312.7 252.7,1313.7"/>
<polygon fill="#f6b496" stroke="#f6b496" stroke-width=".5" stroke-linejoin="round" points="510.7,1218 515,1212.7 519,1212.7 515,1219.3"/>
<polygon fill="#f6b496" stroke="#f6b496" stroke-width=".5" stroke-linejoin="round" points="528.3,1207 536.7,1202.7 545,1203.7 545.7,1210.3 541.7,1217 533.3,1215.3 527.7,1212"/>
<polygon fill="#f6b496" stroke="#f6b496" stroke-width=".5" stroke-linejoin="round" points="582.3,1228.7 591.7,1222 596.7,1224.7 600,1232 605.7,1237 600,1240.3 591.7,1238.7 586.7,1233.7"/>
<polygon fill="#f6b496" stroke="#f6b496" stroke-width=".5" stroke-linejoin="round" points="616.7,1245.4 619.6,1242.5 628.3,1243.3 639.2,1243.3 639.6,1245.8 636.7,1248.8 630.8,1249.2 624.2,1247.9"/>
<polygon fill="#f6b496" stroke="#f6b496" stroke-width=".5" stroke-linejoin="round" points="626.3,1252.5 631.7,1252.9 634.6,1255 635.8,1258.8 630,1261.3 627.9,1257.5"/>
<polygon fill="#f6b496" stroke="#f6b496" stroke-width=".5" stroke-linejoin="round" points="638.8,1251.3 642.5,1247.5 647.5,1249.6 656.7,1253.3 666.3,1258.3 666.7,1261.7 660.8,1264.6 652.5,1266.3 648.3,1263.3 642.5,1257.5"/>
<polygon fill="#f6b496" stroke="#f6b496" stroke-width=".5" stroke-linejoin="round" points="670,1280.3 676.7,1278 690,1285.3 700,1295.3 709.3,1307 705,1313.7 693.3,1318.7 683.3,1323.7 676.7,1330.3 670,1325.3 666.7,1312 668.3,1302 661.7,1295.3 666.7,1287"/>
<polygon fill="#f58e6d" stroke="#f58e6d" stroke-width=".5" stroke-linejoin="round" points="1089.9,1241.5 1098,1234.7 1110.3,1238.1 1129.3,1237.4 1146.9,1236.7 1161.8,1238.8 1172.7,1242.8 1172.7,1249.6 1168.6,1255 1156.4,1261.8 1136,1262.5 1121.1,1260.5 1106.2,1261.8 1095.3,1259.8 1096.7,1249.6 1094,1244.2"/>
<polygon fill="#f58e6d" stroke="#f58e6d" stroke-width=".5" stroke-linejoin="round" points="1175.4,1259.1 1183.5,1257.1 1193,1255.7 1191.7,1258.4 1182.2,1261.1"/>
<polygon fill="#f58e6d" stroke="#f58e6d" stroke-width=".5" stroke-linejoin="round" points="1191,1249.6 1195.1,1246.2 1195.7,1249.6 1193,1251"/>
<polygon fill="#f6b496" stroke="#f6b496" stroke-width=".5" stroke-linejoin="round" points="1225.9,1231.4 1230.6,1227.5 1241.6,1226.7 1254.1,1229.1 1253.3,1233 1243.1,1236.1 1235.3,1236.1 1227.5,1234.5"/>
<polygon fill="#f6b496" stroke="#f6b496" stroke-width=".5" stroke-linejoin="round" points="1256.4,1229.8 1261.9,1226.7 1269.7,1227.5 1268.1,1231.4 1261.9,1233 1257.2,1232.5"/>
<polygon fill="#f6b496" stroke="#f6b496" stroke-width=".5" stroke-linejoin="round" points="1240,1267.3 1252.5,1264.2 1263.4,1266.6 1276.7,1265.8 1277.5,1270.5 1265,1274.4 1252.5,1275.2 1241.6,1274.4"/>
<polygon fill="#f6b496" stroke="#f6b496" stroke-width=".5" stroke-linejoin="round" points="1089.2,1316.1 1094.6,1316.7 1097,1314.3 1104.2,1312.5 1111.4,1309.5 1116.8,1305.9 1121,1297.6 1124,1289.8 1127,1292.2 1133,1297 1139.6,1298.2 1136.6,1305.9 1130.6,1311.3 1123.4,1315.5 1118,1320.3 1115,1326.3 1113.2,1334.7 1110.2,1339.5 1104.2,1342.5 1098.2,1341.9 1094.6,1335.9 1091,1328.7 1094.6,1321.5 1091.6,1319.1"/>
<polygon fill="#f6b496" stroke="#f6b496" stroke-width=".5" stroke-linejoin="round" points="1178.5,1303.5 1185.7,1297.6 1194.1,1292.2 1195.9,1293.4 1192.9,1301.1 1190.5,1305.9 1186.9,1310.7 1186.3,1316.1 1183.3,1316.7 1179.1,1314.9 1177.9,1309.5"/>
<polygon fill="#f6b496" stroke="#f6b496" stroke-width=".5" stroke-linejoin="round" points="1164.7,1326.3 1167.7,1320.3 1172.5,1317.3 1174.9,1321.5 1176.7,1329.9 1174.9,1337.1 1170.1,1340.7 1167.7,1335.9"/>
<polygon fill="#dddbd4" stroke="#dddbd4" stroke-width=".5" stroke-linejoin="round" points="1226.7,1318.9 1235.3,1315 1247.8,1313.4 1252.5,1308.8 1258.8,1306.4 1268.1,1308.8 1277.5,1306.4 1279.1,1310.3 1271.2,1313.4 1260.3,1315 1255.6,1319.7 1247.8,1324.4 1240,1327.5 1233.8,1322.8"/>
<polyline class="st" fill="none" points="407.5,360.3 390,433 386,457 385,472"/>
<polyline class="st" fill="none" points="385,472 353,463 330,460 310,459 300,462 287,460 267,453 243,453 233,447 232,433 228,423 220,422 207,418"/>
<polyline class="st" fill="none" points="153,572 181,580.4 209,588.3 237,595.9 265,603"/>
<polyline class="st" fill="none" points="265,603 286,608.1 307,613 328,617.6 349,622"/>
<polyline class="st" fill="none" points="349,622 370,540 363,533 367,525 377,517 380,507 393,490 394,485 387,477 385,472"/>
<polyline class="st" fill="none" points="432.5,365 426,398 430,410 433,430 447,447 457,463 453,480 447,493 450,505 462,498 465,513 470,533 480,540 483,553 497,550 513,553 523,548 531,556"/>
<polyline class="st" fill="none" points="531,556 517,653"/>
<polyline class="st" fill="none" points="517,653 495.8,650.1 474.5,647 453.2,643.6 432,640"/>
<polyline class="st" fill="none" points="432,640 411.2,635.9 390.5,631.5 369.8,626.9 349,622"/>
<polyline class="st" fill="none" points="735.8,411.3 727,527"/>
<polyline class="st" fill="none" points="727,527 723,563"/>
<polyline class="st" fill="none" points="723,563 676,558.9 629,553.7 582,547.4 535,540"/>
<polyline class="st" fill="none" points="535,540 531,556"/>
<polyline class="st" fill="none" points="723,563 719,640"/>
<polyline class="st" fill="none" points="719,640 712,717"/>
<polyline class="st" fill="none" points="712,717 675.5,714.1 639,710.7 602.5,706.6 566,702"/>
<polyline class="st" fill="none" points="566,702 511,695"/>
<polyline class="st" fill="none" points="511,695 517,653"/>
<polyline class="st" fill="none" points="566,702 547,853"/>
<polyline class="st" fill="none" points="547,853 509.5,847.6 472,841.7 434.5,835.1 397,828"/>
<polyline class="st" fill="none" points="397,828 432,640"/>
<polyline class="st" fill="none" points="265,603 237,715 362,902"/>
<polyline class="st" fill="none" points="362,902 367,890 368,863 373,858 383,865 390,862 397,828"/>
<polyline class="st" fill="none" points="350,987 353,980 348,977 348,965 357,957 362,940 372,933 367,920 362,902"/>
<polyline class="st" fill="none" points="547,853 517,1070"/>
<polyline class="st" fill="none" points="547,853 592.2,859.6 637.5,865.2 682.8,870.1 728,874"/>
<polyline class="st" fill="none" points="728,874 726,895"/>
<polyline class="st" fill="none" points="726,895 713,1065 684.2,1063.3 655.5,1061.2 626.8,1058.8 598,1056"/>
<polyline class="st" fill="none" points="712,717 767,723"/>
<polyline class="st" fill="none" points="767,723 765,760"/>
<polyline class="st" fill="none" points="765,760 758,874"/>
<polyline class="st" fill="none" points="758,874 728,874"/>
<polyline class="st" fill="none" points="910,419.7 913.3,430 913.3,453.3 916.7,465 920,477 922,500 927,523 927,536"/>
<polyline class="st" fill="none" points="927,536 877,535.6 827,534 777,531.1 727,527"/>
<polyline class="st" fill="none" points="927,536 922,548 930,563 931,628"/>
<polyline class="st" fill="none" points="931,628 927,633 929,643 926,658 930,668"/>
<polyline class="st" fill="none" points="930,668 923,667 910,657 897,653 887,657 873,647 834.5,646.3 796,644.9 757.5,642.8 719,640"/>
<polyline class="st" fill="none" points="930,668 937,690 947,723 952,743"/>
<polyline class="st" fill="none" points="952,743 953,748 962,765"/>
<polyline class="st" fill="none" points="962,765 912.8,765.4 863.5,764.7 814.2,762.9 765,760"/>
<polyline class="st" fill="none" points="962,765 963,767 973,780 973,787 984,800 983,881"/>
<polyline class="st" fill="none" points="983,881 926.8,881.1 870.5,880 814.2,877.6 758,874"/>
<polyline class="st" fill="none" points="983,881 985,899"/>
<polyline class="st" fill="none" points="985,899 987,913 990,1010"/>
<polyline class="st" fill="none" points="990,1010 973,1003 963,1007 950,1005 937,1010 923,1003 910,1008 900,1002 887,1003 877,997 860,992 843,988 833,982 817,972"/>
<polyline class="st" fill="none" points="817,972 821,898 726,895"/>
<polyline class="st" fill="none" points="990,1010 1003,1017 1005,1035"/>
<polyline class="st" fill="none" points="1005,1035 1007,1070 1012.6,1080 1019.3,1096.3 1022.1,1107.1 1016,1130.2 1016.6,1145.1 1013.9,1163.4"/>
<polyline class="st" fill="none" points="1047,502 1042,508 1042,527 1033,533 1028,543 1032,553 1030,573 1037,585 1050,593 1063,607 1073,615 1073,627"/>
<polyline class="st" fill="none" points="1073,627 1037.5,628.1 1002,628.6 966.5,628.6 931,628"/>
<polyline class="st" fill="none" points="1073,627 1080,640 1078,650 1093,664"/>
<polyline class="st" fill="none" points="1093,664 1107,680 1105,693 1087,707 1083,727 1073,747"/>
<polyline class="st" fill="none" points="1073,747 1067,738 1038.2,739.9 1009.5,741.3 980.8,742.4 952,743"/>
<polyline class="st" fill="none" points="1073,747 1075,763 1080,775 1096.7,788.3 1100.8,799.2 1116.7,803.3 1112.5,816.7 1115.8,830 1130,843.3 1136.7,848.3 1141.7,860 1146.7,871.7 1151,875"/>
<polyline class="st" fill="none" points="1151,875 1151.7,881.7 1144.2,891.7 1140,893.3"/>
<polyline class="st" fill="none" points="1140,893.3 1137.5,905 1135,914.2"/>
<polyline class="st" fill="none" points="1135,914.2 1120,913.3 1121.7,908.3 1126.7,903.3 1125,898.3 1120,895 1086.2,896.8 1052.5,898 1018.8,898.8 985,899"/>
<polyline class="st" fill="none" points="1135,914.2 1131.7,925 1126.7,936.7 1125,951.7"/>
<polyline class="st" fill="none" points="1125,951.7 1118.3,961.7 1113.3,973.3 1105,983.3 1100,996.7 1097,1010 1100,1027 1095,1033"/>
<polyline class="st" fill="none" points="1095,1033 1072.5,1033.9 1050,1034.5 1027.5,1034.9 1005,1035"/>
<polyline class="st" fill="none" points="1095,1033 1103,1057 1097,1077 1092.6,1080 1088.5,1090.9 1086.5,1101.7 1087.2,1110.5 1146.9,1109.2 1148.2,1120.7 1152.3,1130.2 1156.4,1138.3"/>
<polyline class="st" fill="none" points="1093,508 1100.4,516.2 1107.1,517.5 1120.7,520.2 1134.3,523.6 1145.1,525.7 1156,529.1 1161.4,534.5 1165.5,538.5 1166.8,546.7 1168.9,552.8 1173,556"/>
<polyline class="st" fill="none" points="1175,658 1154.5,659.9 1134,661.5 1113.5,662.9 1093,664"/>
<polyline class="st" fill="none" points="1300,675 1262,680"/>
<polyline class="st" fill="none" points="1262,680 1207,683"/>
<polyline class="st" fill="none" points="1185,688 1190,760 1190.8,776.7 1195,796.7 1194.2,808.3 1186.7,821.7 1182.5,833.3 1183.3,838.3"/>
<polyline class="st" fill="none" points="1183.3,838.3 1178.3,846.7 1179.2,852.5 1171.7,860 1170,868.3 1158.3,866.7 1151,875"/>
<polyline class="st" fill="none" points="1262,680 1270,760 1272.5,781.7"/>
<polyline class="st" fill="none" points="1272.5,781.7 1273.3,788.3 1268.3,793.3 1258.3,799.2 1251.7,810 1244.2,817.5 1240,824.2 1226.7,827.5 1221.7,833.3 1213.3,831.7 1210,835.8 1196.7,835 1183.3,838.3"/>
<polyline class="st" fill="none" points="1382.2,652 1388,705"/>
<polyline class="st" fill="none" points="1388,705 1387,720 1380,740 1373,757 1363.3,760 1361.7,770 1353.3,780 1350,791.7 1345,796.7"/>
<polyline class="st" fill="none" points="1345,796.7 1335,792.5 1330.8,788.3 1325,790.8 1313.3,792.5 1303.3,790.8 1291.7,786.7 1287.5,780.8 1280,779.7 1272.5,781.7"/>
<polyline class="st" fill="none" points="1345,796.7 1341.7,805 1346.7,815 1353.3,823.3 1361.7,831.7 1363.3,835.8"/>
<polyline class="st" fill="none" points="1363.3,835.8 1350,850 1341.7,860 1330,869.2"/>
<polyline class="st" fill="none" points="1330,869.2 1294.2,873.8 1258.3,877.8 1222.5,881.3 1186.7,884.2 1186.7,890.8 1140,893.3"/>
<polyline class="st" fill="none" points="1330,869.2 1380,863.3"/>
<polyline class="st" fill="none" points="1380,863.3 1378.3,870 1371.7,878.3 1363.3,885 1355,890 1346.7,895 1343.3,901.7 1333.3,908.3 1325,913.3 1316.7,918.3 1315,924.2 1307.5,928.3 1307,936.7"/>
<polyline class="st" fill="none" points="1307,936.7 1269.2,942.5"/>
<polyline class="st" fill="none" points="1269.2,942.5 1188.3,949.2"/>
<polyline class="st" fill="none" points="1188.3,949.2 1125,951.7"/>
<polyline class="st" fill="none" points="1188.3,949.2 1188,1047 1194.4,1127.5"/>
<polyline class="st" fill="none" points="1269.2,942.5 1280,987 1293,1033 1300,1047 1297,1070 1302,1090"/>
<polyline class="st" fill="none" points="1302,1090 1217.4,1101.7 1218.8,1111.2 1225.6,1113.9 1225.6,1124.8 1224.2,1127.5"/>
<polyline class="st" fill="none" points="1302,1090 1303,1097 1313,1102 1398,1099 1399,1105 1404,1104 1403,1089 1413,1088 1423,1092"/>
<polyline class="st" fill="none" points="1343,933.5 1338,940 1342,945 1353,953 1363,967 1378,978 1390,988 1407,1003 1420,1020 1427,1035"/>
<polyline class="st" fill="none" points="1307,936.7 1343,933.5"/>
<polyline class="st" fill="none" points="1343,933.5 1353,927 1373,920 1400,918 1413,918 1420,923 1453,925 1493,952"/>
<polyline class="st" fill="none" points="1380,863.3 1460,852 1555,832.5"/>
<polyline class="st" fill="none" points="1363.3,835.8 1370,839.2 1378.3,841.7 1403,832 1417,818 1418,810 1420,806.5 1426.3,794 1429.4,779.4 1434.6,782.5 1441.9,783.6 1444,773.1 1450.3,766.8 1456.6,758.5 1459.7,746 1461.8,741.8 1478.5,749.1 1487,747"/>
<polyline class="st" fill="none" points="1487,747 1493,752 1499,765 1498,770 1502,775"/>
<polyline class="st" fill="none" points="1388,705 1397,737 1425,733"/>
<polyline class="st" fill="none" points="1425,733 1428.9,752.2 1435.7,749.1 1444,740.7 1449.2,737.6 1456.6,736.6 1464.9,730.3 1469.1,731.3 1476.4,737.6 1479.5,741.3 1485.3,742.8 1487,747"/>
<polyline class="st" fill="none" points="1425,733 1452,728.5 1479,723.7 1506,718.5 1533,713"/>
<polyline class="st" fill="none" points="1533,713 1539,709 1541,711.5"/>
<polyline class="st" fill="none" points="1533,713 1534.9,723 1539.1,739.7 1543.8,759.5 1564.6,758"/>
<polyline class="st" fill="none" points="1541,711.5 1541.7,709.8 1547.9,702 1557.3,690.3 1546.4,683.2 1540.1,678.5 1538.6,673.9 1541.7,669.2 1540.1,663.7 1543.3,661.3 1544,652 1547.9,643.4"/>
<polyline class="st" fill="none" points="1547.9,643.4 1538.6,637.9 1536.2,630.1 1526.1,624.6 1495.6,631.1 1465.1,637.2 1434.6,642.9 1404.1,648.1"/>
<polyline class="st" fill="none" points="1547.9,643.4 1574.1,653.2"/>
<polyline class="st" fill="none" points="1555,498.8 1558.1,511.3 1562,522.2 1560.5,533.2 1565.1,542.5 1564.4,548.8 1569.8,553.5 1573,562.9 1575.3,576.9 1575.8,582"/>
<polyline class="st" fill="none" points="1575.8,582 1576.2,610.3"/>
<polyline class="st" fill="none" points="1576.2,610.3 1577.5,618.2 1580,629.9 1577.9,648.2"/>
<polyline class="st" fill="none" points="1628.2,627.4 1626.1,614.9 1623.2,601.2"/>
<polyline class="st" fill="none" points="1623.2,601.2 1576.2,610.3"/>
<polyline class="st" fill="none" points="1623.2,601.2 1634.5,597.4 1639.9,603.3 1647.4,613.2"/>
<polyline class="st" fill="none" points="1642.4,562.1 1634.9,565 1630.7,570.4 1596.6,577"/>
<polyline class="st" fill="none" points="1596.6,577 1575.8,582"/>
<polyline class="st" fill="none" points="1596.6,577 1595.8,552.7 1595,523.8 1598.7,515.1 1605.9,503.6 1604.4,494.9 1602.3,487.7 1602,486"/>
<polyline class="st" fill="none" points="1611.7,473.3 1633.3,544 1640.5,549.8 1644.9,552.7"/>
<polyline class="st" fill="none" points="1404.1,648.1 1403.3,636.3"/>
<polygon fill="#c9c9c5" points="1691.1,486.3 1697.5,484.8 1696.1,492 1692.5,492.8"/><polygon fill="#c9c9c5" points="1678.8,499.3 1682.4,498.5 1684.6,503.6 1681.7,505"/>
<circle cx="1502" cy="752.2" r="9.1" fill="#f58e6d" stroke="#fff" stroke-width="4.7"/>
<polyline fill="none" stroke="#a3a29c" stroke-width="3" points="103,1054 361,1054 478,1173 478,1268 542,1347"/>
<polyline fill="none" stroke="#a3a29c" stroke-width="3" points="478,1173 628,1173 722,1267 722,1347"/>
<polyline fill="none" stroke="#a3a29c" stroke-width="3.3" points="1081.5,1347 1081.5,1211.5 1294,1211.5 1294,1347"/>
<line stroke="#a3a29c" stroke-width="3.3" x1="1081.5" y1="1283" x2="1294" y2="1283"/>
<line stroke="#a3a29c" stroke-width="3.3" x1="1212" y1="1211.5" x2="1212" y2="1347"/>
<line stroke="#a3a29c" stroke-width="2.4" x1="1147.7" y1="1283" x2="1147.7" y2="1347"/>
<line class="ld" x1="1511" y1="390" x2="1612" y2="536"/>
<line class="ld" x1="1506" y1="437" x2="1579" y2="526"/>
<line class="ld" x1="1503" y1="480" x2="1587" y2="603"/>
<line class="ld" x1="1635" y1="612" x2="1669" y2="648"/>
<line class="ld" x1="1597" y1="632" x2="1668" y2="705"/>
<line class="ld" x1="1565" y1="700" x2="1670" y2="747"/>
<line class="ld" x1="1548" y1="742" x2="1692" y2="787"/>
<line class="ld" x1="1507" y1="735" x2="1692" y2="828"/>
<line class="ld" x1="1502" y1="753" x2="1603" y2="855"/>
<line class="ld" x1="1400" y1="772" x2="1654" y2="913"/>
<line class="ld" x1="1073" y1="1225" x2="1093" y2="1234"/>
<line class="ld" x1="1257" y1="1199" x2="1248" y2="1226"/>
<line class="ld" x1="1301" y1="1239" x2="1199" y2="1298"/>
<line class="ld" x1="1073" y1="1295" x2="1097" y2="1309"/>
<line x1="1262" y1="1319" x2="1302" y2="1332" stroke="#777" stroke-width="1.1"/>
<rect x="1531" y="1050.2" width="25" height="24.8" fill="#ad0000"/>
<rect x="1531" y="1092.2" width="25" height="24.8" fill="#dc2a25"/>
<rect x="1531" y="1134.2" width="25" height="24.8" fill="#fc6a4b"/>
<rect x="1531" y="1176.2" width="25" height="24.8" fill="#fe8f71"/>
<rect x="1531" y="1218.2" width="25" height="24.8" fill="#fdb9a1"/>
<rect x="1531" y="1260.2" width="25" height="24.8" fill="#dfddd7"/>
<rect x="0" y="1445.2" width="903.7" height="1.8" fill="#bfae68"/><rect x="1024.4" y="1445.2" width="896" height="1.8" fill="#bfae68"/>
</svg>
<div class="tx"></div>
<svg width="1920" height="1503" viewBox="0 0 1920 1503">
<text class="nv" x="101.99" y="125.3" font-size="58" textLength="261.22" lengthAdjust="spacingAndGlyphs">Confirmed</text>
<text class="nv" x="378.20" y="125.3" font-size="58" textLength="293.60" lengthAdjust="spacingAndGlyphs">coronavirus</text>
<text class="nv" x="687.80" y="125.3" font-size="58" textLength="141.59" lengthAdjust="spacingAndGlyphs">cases</text>
<text class="nv" x="844.21" y="125.3" font-size="58" textLength="44.54" lengthAdjust="spacingAndGlyphs">in</text>
<text class="nv" x="902.22" y="125.3" font-size="58" textLength="80.55" lengthAdjust="spacingAndGlyphs">the</text>
<text class="nv" x="1004.95" y="125.3" font-size="58" textLength="156.11" lengthAdjust="spacingAndGlyphs">United</text>
<text class="nv" x="1182.01" y="125.3" font-size="58" textLength="155.77" lengthAdjust="spacingAndGlyphs">States</text>
<text class="nv" x="101" y="275.3" font-size="37" textLength="262" lengthAdjust="spacingAndGlyphs">TOTAL CASES:</text>
<text class="nv" x="384.5" y="275.3" font-size="57.5" textLength="241" lengthAdjust="spacingAndGlyphs">1,012,399</text>
<text class="nv" x="676" y="275.3" font-size="37" textLength="161" lengthAdjust="spacingAndGlyphs">DEATHS:</text>
<text class="nv" x="850" y="275.3" font-size="57.5" textLength="179" lengthAdjust="spacingAndGlyphs">58,348</text>
<text class="lb" x="253" y="423.7" textLength="121" lengthAdjust="spacingAndGlyphs">Washington</text>
<text class="lb" x="236" y="551.7" textLength="77" lengthAdjust="spacingAndGlyphs">Oregon</text>
<text class="lb" x="197" y="843.7" textLength="98" lengthAdjust="spacingAndGlyphs">California</text>
<text class="lb" x="295" y="728.7" textLength="79" lengthAdjust="spacingAndGlyphs">Nevada</text>
<text class="lb" x="412" y="606.7" textLength="57" lengthAdjust="spacingAndGlyphs">Idaho</text>
<text class="lb" x="545" y="497.7" textLength="88" lengthAdjust="spacingAndGlyphs">Montana</text>
<text class="lb" x="572" y="654.7" textLength="95" lengthAdjust="spacingAndGlyphs">Wyoming</text>
<text class="lb" x="461" y="767.7" textLength="48" lengthAdjust="spacingAndGlyphs">Utah</text>
<text class="lb" x="415" y="950.7" textLength="78" lengthAdjust="spacingAndGlyphs">Arizona</text>
<text class="lb" x="613" y="806.7" textLength="93" lengthAdjust="spacingAndGlyphs">Colorado</text>
<text class="lb" x="573" y="973.7" textLength="125" lengthAdjust="spacingAndGlyphs">New Mexico</text>
<text class="lb" x="754" y="502.7" textLength="135" lengthAdjust="spacingAndGlyphs">North Dakota</text>
<text class="lb" x="759" y="613.7" textLength="139" lengthAdjust="spacingAndGlyphs">South Dakota</text>
<text class="lb" x="789" y="720.7" textLength="98" lengthAdjust="spacingAndGlyphs">Nebraska</text>
<text class="lb" x="824" y="834.7" textLength="77" lengthAdjust="spacingAndGlyphs">Kansas</text>
<text class="lb" x="844" y="940.7" textLength="105" lengthAdjust="spacingAndGlyphs">Oklahoma</text>
<text class="lb" x="811" y="1095.7" textLength="62" lengthAdjust="spacingAndGlyphs">Texas</text>
<text class="lb" x="928" y="544.7" textLength="106" lengthAdjust="spacingAndGlyphs">Minnesota</text>
<text class="lb" x="985" y="707.7" textLength="47" lengthAdjust="spacingAndGlyphs">Iowa</text>
<text class="lb" x="999" y="832.7" textLength="86" lengthAdjust="spacingAndGlyphs">Missouri</text>
<text class="lb" x="1001" y="954.7" textLength="96" lengthAdjust="spacingAndGlyphs">Arkansas</text>
<text class="lb" x="1026" y="1134.7" textLength="98" lengthAdjust="spacingAndGlyphs">Louisiana</text>
<text class="lb" x="1046" y="588.7" textLength="104" lengthAdjust="spacingAndGlyphs">Wisconsin</text>
<text class="lb" x="1104" y="770.7" textLength="63" lengthAdjust="spacingAndGlyphs">Illinois</text>
<text class="lb" x="1193" y="774.7" textLength="74" lengthAdjust="spacingAndGlyphs">Indiana</text>
<text class="lb" x="1212" y="643.7" textLength="91" lengthAdjust="spacingAndGlyphs">Michigan</text>
<text class="lb" x="1293" y="744.7" textLength="48" lengthAdjust="spacingAndGlyphs">Ohio</text>
<text class="lb" x="1211" y="864.7" textLength="94" lengthAdjust="spacingAndGlyphs">Kentucky</text>
<text class="lb" x="1163" y="925.7" textLength="113" lengthAdjust="spacingAndGlyphs">Tennessee</text>
<text class="lb" x="1084" y="1038.7" textLength="111" lengthAdjust="spacingAndGlyphs">Mississippi</text>
<text class="lb" x="1186" y="1016.7" textLength="90" lengthAdjust="spacingAndGlyphs">Alabama</text>
<text class="lb" x="1305" y="1028.7" textLength="81" lengthAdjust="spacingAndGlyphs">Georgia</text>
<text class="lb" x="1411" y="1222.7" textLength="71" lengthAdjust="spacingAndGlyphs">Florida</text>
<text class="lb" x="1417" y="840.7" textLength="76" lengthAdjust="spacingAndGlyphs">Virginia</text>
<text class="lb" x="1369" y="907.7" textLength="148" lengthAdjust="spacingAndGlyphs">North Carolina</text>
<text class="lb" x="1450" y="613.7" textLength="102" lengthAdjust="spacingAndGlyphs">New York</text>
<text class="lb" x="1387" y="701.7" textLength="137" lengthAdjust="spacingAndGlyphs">Pennsylvania</text>
<text class="lb" x="1622" y="485.7" textLength="62" lengthAdjust="spacingAndGlyphs">Maine</text>
<text class="lb" x="278" y="1178.7" textLength="69" lengthAdjust="spacingAndGlyphs">Alaska</text>
<text class="lb" x="1374" y="955" textLength="60" lengthAdjust="spacingAndGlyphs">South</text>
<text class="lb" x="1375" y="977" textLength="85" lengthAdjust="spacingAndGlyphs">Carolina</text>
<text class="lg" x="552" y="1272" textLength="68" lengthAdjust="spacingAndGlyphs">Hawaii</text>
<text class="lg" x="1334" y="396" textLength="164" lengthAdjust="spacingAndGlyphs">New Hampshire</text>
<text class="lg" x="1411" y="441" textLength="87" lengthAdjust="spacingAndGlyphs">Vermont</text>
<text class="lg" x="1343" y="485" textLength="154" lengthAdjust="spacingAndGlyphs">Massachusetts</text>
<text class="lg" x="1660" y="671" textLength="135" lengthAdjust="spacingAndGlyphs">Rhode Island</text>
<text class="lg" x="1673" y="715" textLength="122" lengthAdjust="spacingAndGlyphs">Connecticut</text>
<text class="lg" x="1675" y="756" textLength="120" lengthAdjust="spacingAndGlyphs">New Jersey</text>
<text class="lg" x="1698" y="801" textLength="97" lengthAdjust="spacingAndGlyphs">Delaware</text>
<text class="lg" x="1701" y="842" textLength="94" lengthAdjust="spacingAndGlyphs">Maryland</text>
<text class="lg" x="1659" y="923" textLength="136" lengthAdjust="spacingAndGlyphs">West Virginia</text>
<text class="din" x="1605" y="876" textLength="190" lengthAdjust="spacingAndGlyphs">District of Columbia</text>
<text class="din" x="959" y="1230" textLength="110" lengthAdjust="spacingAndGlyphs">Puerto Rico</text>
<text class="din" x="1014" y="1300.5" textLength="55" lengthAdjust="spacingAndGlyphs">Guam</text>
<text class="din" x="1202" y="1195" textLength="128" lengthAdjust="spacingAndGlyphs">Virgin Islands</text>
<text class="din" x="1305" y="1243" textLength="87" lengthAdjust="spacingAndGlyphs">Northern</text>
<text class="din" x="1305" y="1264" textLength="77" lengthAdjust="spacingAndGlyphs">Mariana</text>
<text class="din" x="1305" y="1285" textLength="67" lengthAdjust="spacingAndGlyphs">Islands</text>
<text class="din" x="1305" y="1342" textLength="163" lengthAdjust="spacingAndGlyphs">American Samoa</text>
<text class="leg" x="1568" y="1069.4" textLength="203" lengthAdjust="spacingAndGlyphs">Over 100,000 cases</text>
<text class="leg" x="1568" y="1111.4" textLength="212" lengthAdjust="spacingAndGlyphs">10,000-99,999 cases</text>
<text class="leg" x="1568" y="1153.4" textLength="188" lengthAdjust="spacingAndGlyphs">5,000-9,999 cases</text>
<text class="leg" x="1568" y="1195.4" textLength="190" lengthAdjust="spacingAndGlyphs">1,000-4,999 cases</text>
<text class="leg" x="1568" y="1237.4" textLength="125" lengthAdjust="spacingAndGlyphs">1-999 cases</text>
<text class="leg" x="1568" y="1279.4" textLength="78" lengthAdjust="spacingAndGlyphs">0 cases</text>
<text x="100" y="1402" font-size="27.5" fill="#6f6e69" textLength="833" lengthAdjust="spacingAndGlyphs">Source: Johns Hopkins University; data as of 07:30 ET, April 29, 2020</text>
<text x="915.3" y="1457.9" font-size="34.4" font-weight="bold" fill="#b8a75c" stroke="#b8a75c" stroke-width="1.1" textLength="95" lengthAdjust="spacingAndGlyphs">CGTN</text>
</svg></body></html>
